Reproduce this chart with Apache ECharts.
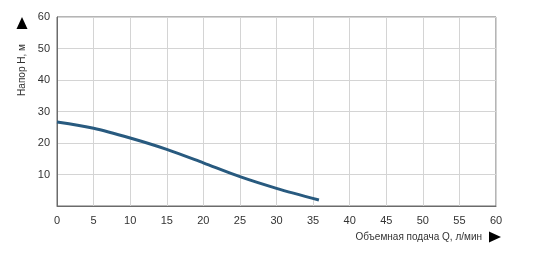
<!DOCTYPE html>
<html><head><meta charset="utf-8">
<script src="https://cdn.jsdelivr.net/npm/echarts@6/dist/echarts.min.js"></script>
<style>html,body{margin:0;padding:0;background:#fff}#c{width:548px;height:264px}</style>
</head><body><div id="c"></div>
<script>
const flowQ = [0, 5, 10, 15, 20, 25, 30, 35.8];
const headH = [26.7, 24.7, 21.6, 18.0, 13.7, 9.3, 5.6, 1.9];
const yTitle = 'Напор Н, м';
const xTitle = 'Объемная подача Q, л/мин';

const chart = echarts.init(document.getElementById('c'), null, {renderer: 'canvas'});
const font = 'Liberation Sans, Arial, sans-serif';
chart.setOption({
  animation: false,
  grid: {left: 57, right: 52, top: 17, bottom: 58, show: true, borderColor: '#6b6b6b', borderWidth: 1, backgroundColor: 'transparent'},
  xAxis: {
    type: 'value', min: 0, max: 60, interval: 5,
    axisLine: {show: true, lineStyle: {color: '#6b6b6b', width: 1}},
    axisTick: {show: false},
    axisLabel: {color: '#333', fontSize: 11, fontFamily: font, margin: 9},
    splitLine: {show: true, lineStyle: {color: '#d4d4d4', width: 1}}
  },
  yAxis: {
    type: 'value', min: 0, max: 60, interval: 10,
    axisLine: {show: true, lineStyle: {color: '#6b6b6b', width: 1}},
    axisTick: {show: false},
    axisLabel: {color: '#333', fontSize: 11, fontFamily: font, margin: 7,
      formatter: v => v === 0 ? '' : String(v)},
    splitLine: {show: true, lineStyle: {color: '#d4d4d4', width: 1}}
  },
  series: [{
    type: 'line', data: flowQ.map((q, i) => [q, headH[i]]),
    smooth: 0.3, showSymbol: false,
    lineStyle: {color: '#285a7f', width: 3}
  }],
  graphic: [
    {type: 'text', x: 22, y: 70, rotation: Math.PI / 2,
      style: {text: yTitle, fill: '#333', font: '10px ' + font, textAlign: 'center', textVerticalAlign: 'middle'}},
    {type: 'polygon', shape: {points: [[22, 17], [16.5, 29], [27.5, 29]]}, style: {fill: '#000'}},
    {type: 'text', x: 482, y: 237.5,
      style: {text: xTitle, fill: '#333', font: '10px ' + font, textAlign: 'right', textVerticalAlign: 'middle'}},
    {type: 'polygon', shape: {points: [[489, 231.5], [501, 237], [489, 242.5]]}, style: {fill: '#000'}}
  ]
});
</script></body></html>
